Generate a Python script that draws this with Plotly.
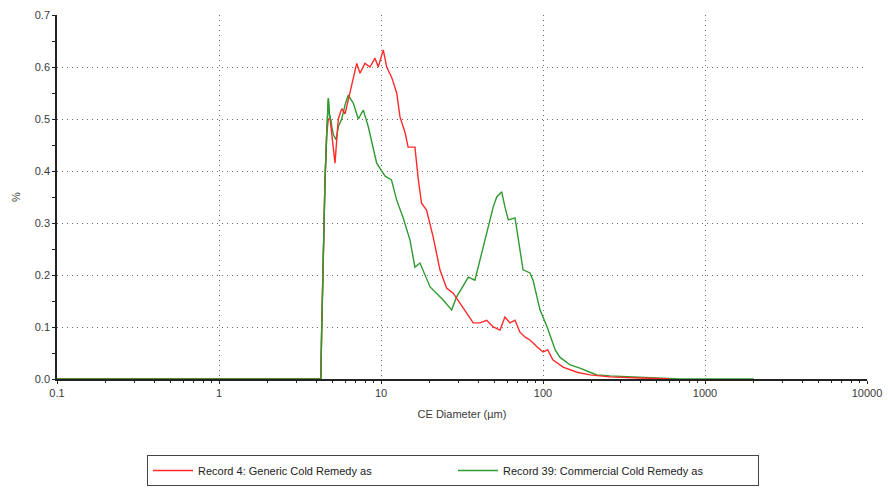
import plotly.graph_objects as go

# ---- data ----
red_name = "Record 4: Generic Cold Remedy as"
green_name = "Record 39: Commercial Cold Remedy as"

red_x = [0.1, 1, 4.1, 4.25, 4.30, 4.37, 4.41, 4.51, 4.62, 4.73, 4.85, 5.08, 5.20, 5.45, 5.72, 6.0,
         6.28, 6.75, 7.08, 7.42, 7.96, 8.55, 9.18, 9.62, 10.33, 10.84, 11.64, 12.5, 13.1, 14.1,
         14.7, 16.2, 17.0, 17.8, 19.1, 21.0, 23.1, 25.4, 27.9, 30.7, 33.8, 37.1, 40.8, 44.9,
         49.3, 54.3, 58.2, 62.5, 67.2, 72, 78, 83.1, 91.8, 100, 107, 115, 133, 162, 195, 259,
         397, 608]
red_y = [0, 0, 0, 0, 0.088, 0.19, 0.29, 0.38, 0.47, 0.50, 0.50, 0.446, 0.415, 0.50, 0.52, 0.51,
         0.537, 0.575, 0.607, 0.588, 0.607, 0.60, 0.617, 0.60, 0.633, 0.60, 0.58, 0.55, 0.504, 0.473,
         0.446, 0.446, 0.383, 0.338, 0.325, 0.273, 0.21, 0.175, 0.165, 0.146, 0.127, 0.108, 0.108, 0.113,
         0.10, 0.094, 0.119, 0.108, 0.113, 0.09, 0.08, 0.075, 0.062, 0.052, 0.056, 0.037, 0.023, 0.013, 0.008, 0.004,
         0.002, 0]

green_x = [0.1, 1, 4.2, 4.25, 4.30, 4.37, 4.41, 4.51, 4.62, 4.73, 4.80, 4.96, 5.08, 5.28, 5.45, 5.72,
           6.0, 6.28, 6.75, 7.24, 7.78, 8.35, 8.96, 9.40, 10.6, 11.6, 12.5, 13.7, 15.1, 16.2, 17.4,
           20.1, 24.2, 27.3, 29.3, 34.6, 38.0, 42.8, 45.9, 49.3, 51.8, 55.6, 58.2, 61.1, 67.2,
           72.1, 75.3, 83.1, 86.8, 95.8, 106, 119, 127, 147, 169, 195, 215, 259, 360, 527, 700, 2000]
green_y = [0, 0, 0, 0, 0.088, 0.19, 0.29, 0.38, 0.47, 0.54, 0.51, 0.49, 0.47, 0.46, 0.485, 0.50,
           0.527, 0.546, 0.53, 0.50, 0.517, 0.485, 0.446, 0.415, 0.39, 0.383, 0.344, 0.31, 0.267, 0.215, 0.223,
           0.177, 0.152, 0.133, 0.158, 0.196, 0.19, 0.254, 0.287, 0.331, 0.35, 0.36, 0.331, 0.306, 0.31,
           0.248, 0.21, 0.204, 0.19, 0.133, 0.10, 0.056, 0.042, 0.027, 0.021, 0.013, 0.008, 0.006, 0.004, 0.001, 0, 0]

x_ticks = [0.1, 1, 10, 100, 1000, 10000]
x_ticklabels = ["0.1", "1", "10", "100", "1000", "10000"]
y_ticks = [0.0, 0.1, 0.2, 0.3, 0.4, 0.5, 0.6, 0.7]
y_ticklabels = ["0.0", "0.1", "0.2", "0.3", "0.4", "0.5", "0.6", "0.7"]

FONT = "Liberation Sans, Arial, sans-serif"
TXT = "#3a3a3a"
RED = "#ff2a2a"
GREEN = "#2f9a2f"

fig = go.Figure()
fig.add_trace(go.Scatter(x=green_x, y=green_y, mode="lines", name=green_name,
                         line=dict(color=GREEN, width=1.4), showlegend=False))
fig.add_trace(go.Scatter(x=red_x, y=red_y, mode="lines", name=red_name,
                         line=dict(color=RED, width=1.4)))
fig.add_trace(go.Scatter(x=[None], y=[None], mode="lines", name=green_name,
                         line=dict(color=GREEN, width=1.4)))
fig.add_trace(go.Scatter(x=green_x[:12], y=green_y[:12], mode="lines", showlegend=False,
                         line=dict(color=GREEN, width=1.4)))

fig.update_layout(
    width=888, height=489,
    margin=dict(l=57, r=21, t=15, b=110, autoexpand=False),
    plot_bgcolor="white", paper_bgcolor="white",
    font=dict(family=FONT, size=11, color=TXT),
    showlegend=True,
    legend=dict(orientation="h", xref="container", yref="container",
                x=147 / 888, xanchor="left", y=1 - 455 / 489, yanchor="top",
                bordercolor="#444", borderwidth=1, bgcolor="white",
                entrywidth=250, entrywidthmode="pixels", itemwidth=40,
                font=dict(family=FONT, size=11, color="#222")),
)
GRID = dict(showgrid=True, gridcolor="#6a6a6a", griddash="1px,4px", gridwidth=1)
fig.update_xaxes(
    type="log", range=[-1, 4], automargin=False,
    tickvals=x_ticks, ticktext=x_ticklabels, **GRID,
    showline=True, linecolor="#222", linewidth=1.5,
    ticks="outside", ticklen=3, tickcolor="#222",
    minor=dict(ticks="outside", ticklen=2, tickcolor="#222", showgrid=False,
               tickvals=[m * 10 ** e for e in range(-1, 4) for m in range(2, 10)]),
    zeroline=False, layer="below traces",
    title=dict(text="CE Diameter (µm)", standoff=12, font=dict(size=11)),
    tickfont=dict(size=11),
)
fig.update_yaxes(
    range=[0, 0.7], automargin=False,
    tickvals=y_ticks, ticktext=y_ticklabels, **GRID,
    showline=True, linecolor="#222", linewidth=1.5,
    ticks="outside", ticklen=3, tickcolor="#222",
    minor=dict(ticks="outside", ticklen=3, tickcolor="#222", dtick=0.05, showgrid=False),
    zeroline=False, layer="below traces",
    title=dict(text="%", standoff=12, font=dict(size=11)),
    tickfont=dict(size=11),
)

fig.write_html("out.html")
